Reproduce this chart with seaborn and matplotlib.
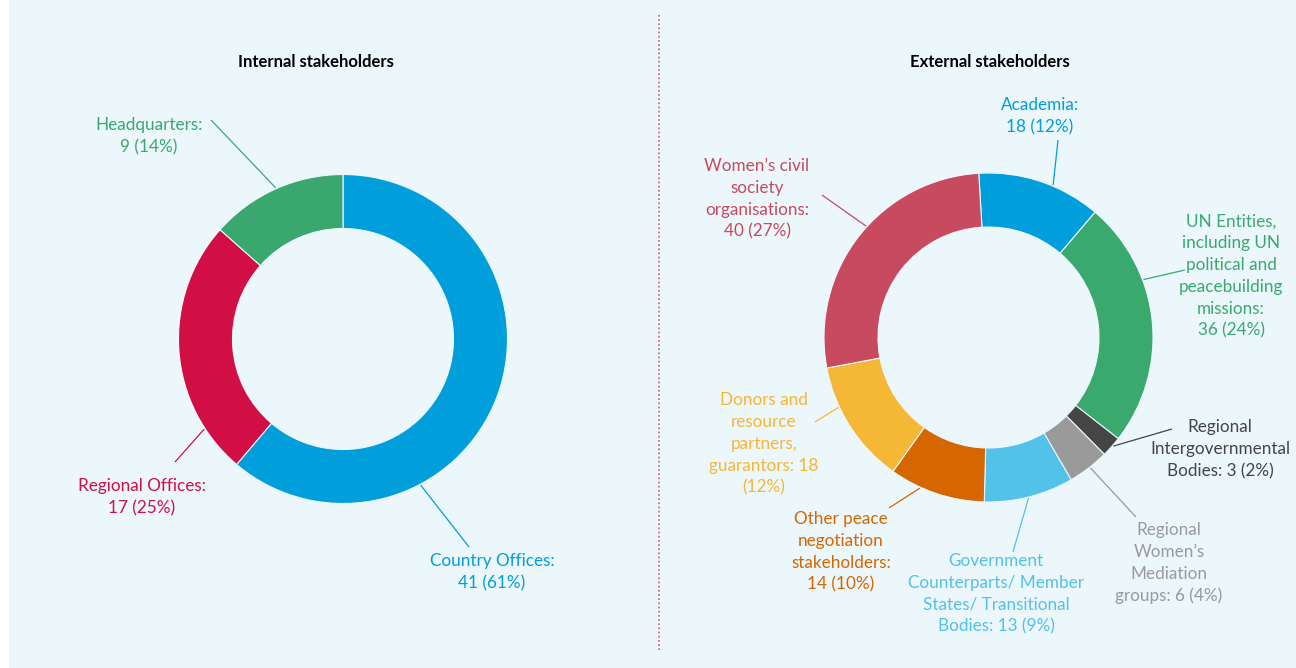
import matplotlib
matplotlib.use("Agg")
import matplotlib.pyplot as plt
import seaborn as sns
import numpy as np
from matplotlib.patches import Rectangle

# ---------------- data ----------------
internal_names = ["Country Offices", "Regional Offices", "Headquarters"]
internal_values = [41, 17, 9]
internal_pcts = [61, 25, 14]
internal_label_fmt = [
    "Country Offices:\n{v} ({p}%)",
    "Regional Offices:\n{v} ({p}%)",
    "Headquarters:\n{v} ({p}%)",
]

external_names = [
    "Academia",
    "UN Entities, including UN political and peacebuilding missions",
    "Regional Intergovernmental Bodies",
    "Regional Women’s Mediation groups",
    "Government Counterparts/ Member States/ Transitional Bodies",
    "Other peace negotiation stakeholders",
    "Donors and resource partners, guarantors",
    "Women’s civil society organisations",
]
external_values = [18, 36, 3, 6, 13, 14, 18, 40]
external_pcts = [12, 24, 2, 4, 9, 10, 12, 27]
external_label_fmt = [
    "Academia:\n{v} ({p}%)",
    "UN Entities,\nincluding UN\npolitical and\npeacebuilding\nmissions:\n{v} ({p}%)",
    "Regional\nIntergovernmental\nBodies: {v} ({p}%)",
    "Regional\nWomen’s\nMediation\ngroups: {v} ({p}%)",
    "Government\nCounterparts/ Member\nStates/ Transitional\nBodies: {v} ({p}%)",
    "Other peace\nnegotiation\nstakeholders:\n{v} ({p}%)",
    "Donors and\nresource\npartners,\nguarantors: {v}\n({p}%)",
    "Women’s civil\nsociety\norganisations:\n{v} ({p}%)",
]

titles = ["Internal stakeholders", "External stakeholders"]

# ---------------- styles / layout ----------------
internal_colors = ["#009EDB", "#D10F44", "#3AA86E"]
external_colors = ["#009EDB", "#39A96E", "#454545", "#9A9A9A",
                   "#52C2E8", "#D56600", "#F4B736", "#C84A5E"]

W, H = 1296, 668
BG = "#ECF7FC"
FONT = ["Lato", "DejaVu Sans"]


def Y(py):
    return H - py


# (text centre px, leader end px, leader anchor angle on the ring)
internal_layout = [
    ((492, 572), (469, 547), -62),
    ((142, 497), (175, 462), 213),
    ((149, 136), (211, 120), 114),
]
external_layout = [
    ((1040, 116), (1058, 140), 67),
    ((1231, 276), (1185, 270), 20.5),
    ((1220, 449), (1172, 429), -41),
    ((1169, 563), (1136, 517), -52),
    ((996, 594), (1013, 552), -76),
    ((841, 552), (889, 508), -114.5),
    ((764, 444), (815, 422), -155),
    ((757, 199), (822, 195), 137.7),
]

sns.set_theme(style="white")
plt.rcParams["font.family"] = FONT

fig = plt.figure(figsize=(W / 100, H / 100), dpi=100)
fig.patch.set_facecolor("white")
ax = fig.add_axes([0, 0, 1, 1])
ax.add_patch(Rectangle((9, 0), W - 9, H, facecolor=BG, edgecolor="none", zorder=0))

R = 164.5
RING = 54


def donut(values, colors, center, start, layout, fmts, pcts):
    pal = sns.color_palette(colors)
    ax.pie(values, colors=pal, startangle=start, counterclock=False,
           center=center, radius=R, frame=True,
           wedgeprops=dict(width=RING, edgecolor=BG, linewidth=0.8))
    for (tpos, lend, ang), fmt, v, p, c in zip(layout, fmts, values, pcts, colors):
        a = np.deg2rad(ang)
        sx = center[0] + (R + 1) * np.cos(a)
        sy = center[1] + (R + 1) * np.sin(a)
        ax.plot([sx, lend[0]], [sy, Y(lend[1])], color=c, lw=0.9,
                solid_capstyle="butt", zorder=3)
        ax.text(tpos[0], Y(tpos[1]), fmt.format(v=v, p=p), ha="center",
                va="center", multialignment="center", fontsize=12.3,
                color=c, linespacing=1.45, family=FONT, zorder=4)


donut(internal_values, internal_colors, (343, Y(339)), 90,
      internal_layout, internal_label_fmt, internal_pcts)
donut(external_values, external_colors, (988.5, Y(337.5)), 93.4,
      external_layout, external_label_fmt, external_pcts)

ax.text(316, Y(62), titles[0], ha="center", va="center", fontsize=12,
        fontweight="bold", color="black", family=FONT)
ax.text(990, Y(62), titles[1], ha="center", va="center", fontsize=12,
        fontweight="bold", color="black", family=FONT)

# dotted divider
ax.plot([659, 659], [Y(15), Y(650)], color="#D6557A", lw=1.2,
        linestyle=(0, (1.0, 1.5)), zorder=2)

ax.set_xlim(0, W)
ax.set_ylim(0, H)
ax.set_aspect("auto")
ax.axis("off")

fig.savefig("out.png", dpi=100, facecolor="white")
